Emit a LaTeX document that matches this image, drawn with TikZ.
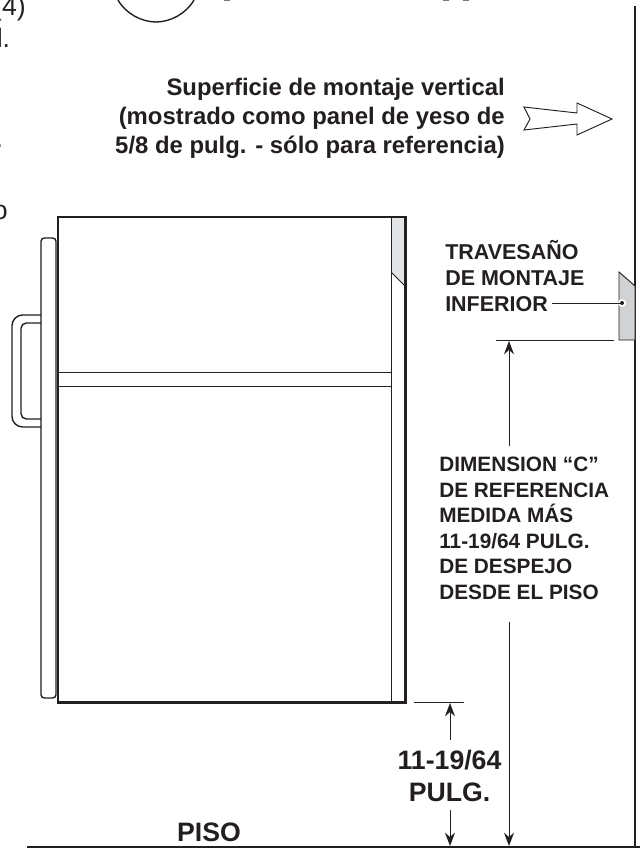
\documentclass[tikz,border=0pt]{standalone}
\usepackage{fontspec}
\setmainfont{Liberation Sans}
\usetikzlibrary{arrows.meta}
\definecolor{ink}{HTML}{231F20}
\definecolor{panelgrey}{HTML}{E3E4E6}
\definecolor{railgrey}{HTML}{D1D2D4}
\tikzset{
  heavy/.style={draw=ink,line width=1.6pt},
  medium/.style={draw=ink,line width=1.05pt},
  thin/.style={draw=ink,line width=0.7pt},
  dimline/.style={draw=ink,line width=0.7pt},
  dimarrow/.style={draw=ink,line width=0.7pt,-{Stealth[length=10pt,width=7.5pt]}},
  lbl/.style={font=\bfseries\fontsize{16.1pt}{19.5pt}\selectfont,text=ink,align=left,inner sep=0pt},
  lblr/.style={font=\bfseries\fontsize{17.9pt}{21.75pt}\selectfont,text=ink,align=right,inner sep=0pt},
  lblc/.style={font=\bfseries\fontsize{15.6pt}{19.1pt}\selectfont,text=ink,align=left,inner sep=0pt},
  big/.style={font=\bfseries\fontsize{20pt}{23.8pt}\selectfont,text=ink,align=center,inner sep=0pt},
  cut/.style={font=\fontsize{20pt}{24pt}\selectfont,text=ink,inner sep=0pt}
}
\begin{document}
\begin{tikzpicture}[x=0.75pt,y=-0.75pt]
\useasboundingbox (0,0) rectangle (640,848);
\clip (0,0) rectangle (640,848);
% cut-off remnants at the edges
\node[cut,anchor=base east] (a4) at (26,16) {(4)};
\node[cut,anchor=base east] (al) at (10.4,48) {l.};
\node[cut,anchor=base east] (adot) at (3.4,148) {.};
\node[cut,anchor=base east] (ao) at (8,219.5) {o};
\draw[medium] (118,0) .. controls (126,14) and (142,22) .. (156,22) .. controls (170,22) and (186,14) .. (194,0);
\draw[draw=ink!60,line width=0.6pt] (224,0.3) -- (230,0.3) (443,0.3) -- (449,0.3) (463,0.3) -- (469,0.3);
% wall
\draw[line width=1.5pt,draw=ink] (635,6) -- (635,848);
% hollow arrow
\path[draw=ink,line width=0.7pt,fill=white] (524,107) -- (577,113) -- (577,103) -- (612,119) -- (577,135) -- (577,124) -- (524,130) -- (530,119) -- cycle;
\node[lblr,anchor=north east] (surf) at (505,77.6) {Superficie de montaje vertical\\(mostrado como panel de yeso de\\5/8 de pulg. - sólo para referencia)};
% ice machine
\path[fill=panelgrey] (391,217) -- (405,217) -- (405,286) -- (391,272) -- cycle;
\draw[thin] (391,217) -- (391,702);
\draw[thin] (391,272) -- (405,286);
\draw[thin] (58,372) -- (391,372) (58,386) -- (391,386);
\draw[heavy] (58,702.5) rectangle (405.5,217);
% door
\draw[medium,rounded corners=2.5pt] (41,238) rectangle (56,698);
% handle
\draw[medium,rounded corners=8pt] (41,315) -- (12,315) -- (12,427) -- (41,427);
\draw[medium,rounded corners=4pt] (41,323) -- (21,323) -- (21,419) -- (41,419);
% rail
\path[draw=ink,line width=0.7pt,fill=railgrey] (619,272) -- (635,286) -- (635,340) -- (619,340) -- cycle;
\fill[white] (622,303) circle (4);
\fill[ink] (622,303) circle (2);
\node[lbl,anchor=north west] (rail) at (445,240) {TRAVESAÑO\\DE MONTAJE\\INFERIOR};
\coordinate (railpt) at (622,303);
\draw[dimline] (552,303) -- (railpt);
% dimension C
\draw[dimline] (496,340) -- (614,340);
\coordinate (ctop) at (509,341);
\coordinate (cbot) at (509,846);
\node[lblc,anchor=north west] (dimc) at (439,457) {DIMENSION “C”\\DE REFERENCIA\\MEDIDA MÁS\\11-19/64 PULG.\\DE DESPEJO\\DESDE EL PISO};
\draw[dimarrow] (509,446) -- (ctop);
\draw[dimarrow] (509,622) -- (cbot);
% dimension clearance
\draw[dimline] (414,702) -- (464,702);
\coordinate (ktop) at (450,703);
\coordinate (kbot) at (450,846);
\node[big,anchor=north] (kval) at (449.5,750) {11-19/64\\PULG.};
\draw[dimarrow] (450,740) -- (ktop);
\draw[dimarrow] (450,810) -- (kbot);
% floor
\draw[line width=1.7pt,draw=ink] (27,847) -- (640,847);
\node[big,anchor=base] (piso) at (209,841) {PISO};
\end{tikzpicture}
\end{document}
